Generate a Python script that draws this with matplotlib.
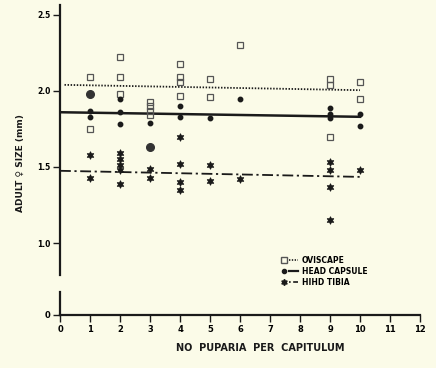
import matplotlib
matplotlib.use("Agg")
import matplotlib.pyplot as plt
from matplotlib.lines import Line2D
from matplotlib.legend_handler import HandlerTuple

# oviscape (open squares)
ovi_x = [1, 1, 2, 2, 2, 3, 3, 3, 3, 4, 4, 4, 4, 5, 5, 6, 9, 9, 9, 10, 10]
ovi_y = [2.09, 1.75, 2.22, 2.09, 1.98, 1.93, 1.90, 1.87, 1.84, 2.18, 2.09, 2.06, 1.97,
         2.08, 1.96, 2.30, 2.08, 2.04, 1.70, 2.06, 1.95]

# head capsule (dots)
head_x = [1, 1, 1, 2, 2, 2, 3, 3, 4, 4, 5, 6, 9, 9, 9, 10, 10]
head_y = [1.98, 1.87, 1.83, 1.95, 1.86, 1.78, 1.79, 1.63, 1.90, 1.83, 1.82, 1.95,
          1.89, 1.85, 1.82, 1.85, 1.77]
head_big = [(1, 1.98), (3, 1.63)]

# hind tibia (stars)
tib_x = [1, 1, 2, 2, 2, 2, 2, 3, 3, 4, 4, 4, 4, 5, 5, 6, 9, 9, 9, 9, 10]
tib_y = [1.58, 1.43, 1.59, 1.55, 1.51, 1.48, 1.39, 1.49, 1.43, 1.70, 1.52, 1.40, 1.35,
         1.51, 1.41, 1.42, 1.53, 1.48, 1.37, 1.15, 1.48]

# regression lines (end points)
ovi_fit_x = [0.15, 10]
ovi_fit_y = [2.04, 2.005]
head_fit_x = [0, 10]
head_fit_y = [1.86, 1.83]
tib_fit_x = [0, 10]
tib_fit_y = [1.475, 1.435]

bg = "#fbfbe8"
ink = "#1a1a1a"
dashdot = (0, (6, 2, 1.2, 2))

fig = plt.figure(figsize=(4.36, 3.68), dpi=100, facecolor=bg)
W, H = 436, 368
ax = fig.add_axes([60 / W, (H - 275) / H, 360 / W, 270 / H])
ax2 = fig.add_axes([60 / W, (H - 315) / H, 360 / W, 27 / H])
for a in (ax, ax2):
    a.set_facecolor("none")
    a.set_xlim(0, 12)
    for s in ("top", "right"):
        a.spines[s].set_visible(False)
    a.spines["left"].set_linewidth(1.6)
    a.spines["left"].set_color(ink)

# upper panel
ax.set_ylim(0.79, 2.565)
ax.spines["bottom"].set_visible(False)
ax.set_xticks([])
ax.set_yticks([1.0, 1.5, 2.0, 2.5])
ax.set_yticklabels(["1.0", "1.5", "2.0", "2.5"], fontsize=5.5, fontweight="bold")
ax.tick_params(axis="y", length=5, width=1.0, color=ink, pad=2)

ax.plot(ovi_fit_x, ovi_fit_y, color=ink, ls=(0, (0.8, 0.9)), lw=1.3)
ax.plot(head_fit_x, head_fit_y, color=ink, ls="-", lw=1.8)
ax.plot(tib_fit_x, tib_fit_y, color=ink, ls=dashdot, lw=1.3)

ax.plot(ovi_x, ovi_y, ls="none", marker="s", ms=5, mfc="none", mec="#555555", mew=0.9)
ax.plot(head_x, head_y, ls="none", marker="o", ms=3.2, mfc=ink, mec=ink)
ax.plot([p[0] for p in head_big], [p[1] for p in head_big], ls="none",
        marker="o", ms=5.5, mfc="#333333", mec="#333333")
ax.plot(tib_x, tib_y, ls="none", marker=(6, 1, 0), ms=5.5, mfc=ink, mec=ink, mew=0.6)

h_ovi = (Line2D([], [], ls="none", marker="s", ms=4, mfc="none", mec="#555555"),
         Line2D([], [], color=ink, ls=(0, (0.8, 0.9)), lw=1.2))
h_head = (Line2D([], [], ls="none", marker="o", ms=3, mfc=ink, mec=ink),
          Line2D([], [], color=ink, ls="-", lw=1.6))
h_tib = (Line2D([], [], ls="none", marker=(6, 1, 0), ms=4.5, mfc=ink, mec=ink),
         Line2D([], [], color=ink, ls=(0, (1, 1.5, 5, 1)), lw=1.2))
leg = ax.legend([h_ovi, h_head, h_tib], ["OVISCAPE", "HEAD CAPSULE", "HIHD TIBIA"],
                handler_map={tuple: HandlerTuple(ndivide=2, pad=0)},
                loc="upper left", bbox_to_anchor=(0.6, 0.085), frameon=False,
                prop={"size": 5.5, "weight": "bold"}, handlelength=2.4,
                handletextpad=0.5, labelspacing=0.25, borderpad=0)

# lower panel
ax2.set_ylim(0, 0.2)
ax2.spines["left"].set_bounds(0, 0.17)
ax2.spines["bottom"].set_linewidth(1.6)
ax2.spines["bottom"].set_color(ink)
ax2.set_yticks([0])
ax2.set_yticklabels(["0"], fontsize=6, fontweight="bold")
ax2.tick_params(axis="y", length=5, width=1.0, color=ink, pad=2)
ax2.set_xticks(range(13))
ax2.set_xticklabels([str(i) for i in range(13)], fontsize=6, fontweight="bold")
ax2.tick_params(axis="x", length=5, width=1.0, color=ink, pad=2)

fig.text(20 / W, (H - 163) / H, "ADULT \u2640 SIZE (mm)", rotation=90,
         ha="center", va="center", fontsize=6.5, fontweight="bold", color=ink)
fig.text(260 / W, (H - 348) / H, "NO  PUPARIA  PER  CAPITULUM",
         ha="center", va="center", fontsize=7, fontweight="bold", color=ink)

fig.savefig("out.png", dpi=100, facecolor=bg)
